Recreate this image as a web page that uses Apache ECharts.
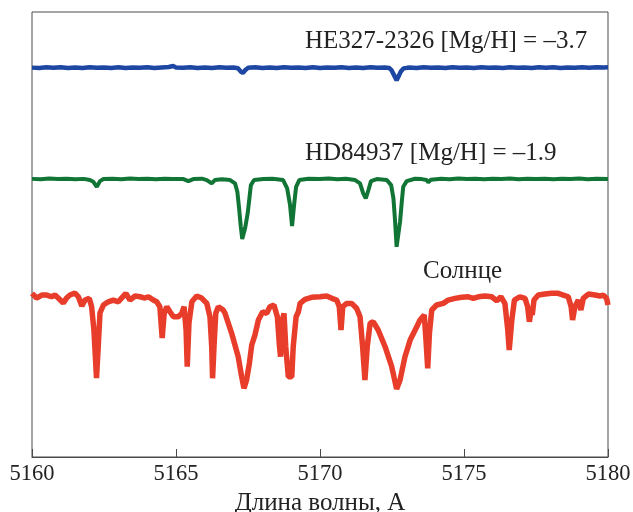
<!DOCTYPE html>
<html>
<head>
<meta charset="utf-8">
<script src="https://cdn.jsdelivr.net/npm/echarts@6/dist/echarts.min.js"></script>
<style>
  html, body { margin: 0; padding: 0; background: #fff; }
  #chart { width: 633px; height: 512px; }
</style>
</head>
<body>
<div id="chart"></div>
<script>
// Wavelength axis (Angstrom)
const waveMin = 5160;
const waveMax = 5180;
const waveStep = 5;

// Normalized spectra: [wavelength, relative flux]
const sunSpectrum = [
  [5160.00,1.030],[5160.16,0.986],[5160.34,1.014],[5160.51,1.014],[5160.68,0.998],
  [5160.80,1.014],[5160.91,0.986],[5161.09,0.939],[5161.20,0.986],[5161.32,1.014],
  [5161.49,1.033],[5161.61,0.998],[5161.73,0.911],[5161.84,0.967],[5161.99,0.983],
  [5162.07,0.905],[5162.15,0.687],[5162.24,0.238],[5162.30,0.531],[5162.36,0.846],
  [5162.48,0.921],[5162.65,0.951],[5162.82,0.967],[5163.00,0.951],[5163.11,0.986],
  [5163.26,1.030],[5163.40,0.967],[5163.58,1.005],[5163.75,0.998],[5163.92,0.986],
  [5164.04,0.998],[5164.21,0.967],[5164.33,0.951],[5164.44,0.905],[5164.52,0.612],
  [5164.59,0.843],[5164.68,0.905],[5164.79,0.858],[5164.91,0.811],[5165.08,0.811],
  [5165.20,0.843],[5165.28,0.905],[5165.35,0.687],[5165.39,0.344],[5165.45,0.752],
  [5165.55,0.951],[5165.72,1.005],[5165.89,0.986],[5166.07,0.936],[5166.18,0.811],
  [5166.24,0.531],[5166.27,0.236],[5166.32,0.531],[5166.38,0.843],[5166.47,0.905],
  [5166.64,0.874],[5166.70,0.846],[5166.93,0.659],[5167.16,0.437],[5167.28,0.250],
  [5167.36,0.142],[5167.45,0.220],[5167.55,0.379],[5167.63,0.547],[5167.74,0.640],
  [5167.86,0.780],[5168.01,0.858],[5168.15,0.843],[5168.26,0.905],[5168.40,0.921],
  [5168.52,0.811],[5168.59,0.547],[5168.63,0.437],[5168.67,0.752],[5168.75,0.843],
  [5168.81,0.531],[5168.90,0.250],[5169.02,0.250],[5169.07,0.531],[5169.17,0.811],
  [5169.25,0.858],[5169.31,0.936],[5169.48,0.974],[5169.71,0.993],[5170.00,0.998],
  [5170.23,1.005],[5170.41,0.983],[5170.58,0.967],[5170.67,0.905],[5170.73,0.687],
  [5170.79,0.905],[5170.93,0.936],[5171.10,0.936],[5171.27,0.890],[5171.39,0.811],
  [5171.48,0.531],[5171.56,0.220],[5171.64,0.531],[5171.74,0.750],[5171.85,0.764],
  [5172.02,0.687],[5172.26,0.531],[5172.49,0.344],[5172.66,0.136],[5172.78,0.220],
  [5172.95,0.437],[5173.13,0.593],[5173.36,0.718],[5173.47,0.780],[5173.62,0.827],
  [5173.68,0.593],[5173.74,0.329],[5173.80,0.656],[5173.88,0.874],[5174.05,0.921],
  [5174.28,0.936],[5174.45,0.967],[5174.69,0.983],[5174.92,0.993],[5175.15,0.998],
  [5175.32,0.983],[5175.50,0.998],[5175.73,1.005],[5175.96,0.998],[5176.14,0.961],
  [5176.28,0.998],[5176.42,0.936],[5176.52,0.687],[5176.57,0.500],[5176.66,0.780],
  [5176.75,0.967],[5176.94,0.998],[5177.12,0.983],[5177.21,0.905],[5177.27,0.764],
  [5177.33,0.874],[5177.37,0.827],[5177.43,0.967],[5177.58,1.014],[5177.81,1.023],
  [5178.04,1.030],[5178.27,1.030],[5178.45,1.014],[5178.62,0.998],[5178.72,0.905],
  [5178.77,0.780],[5178.85,0.905],[5178.97,0.967],[5179.06,0.874],[5179.14,0.983],
  [5179.32,1.023],[5179.55,1.014],[5179.72,1.005],[5179.84,1.014],[5179.95,0.983],
  [5180.00,0.921]
];

const hd84937Spectrum = [
  [5160.00,1.000],[5160.30,0.996],[5160.60,1.003],[5160.90,0.998],[5161.20,1.002],
  [5161.50,0.997],[5161.80,1.000],[5162.01,0.989],[5162.13,0.973],[5162.25,0.926],
  [5162.36,0.979],[5162.48,0.998],[5162.80,1.002],[5163.10,0.997],[5163.40,1.003],
  [5163.70,0.999],[5164.00,1.002],[5164.30,0.997],[5164.60,1.001],[5164.90,0.998],
  [5165.26,0.998],[5165.43,0.979],[5165.60,0.998],[5165.90,1.002],[5166.07,0.989],
  [5166.24,0.958],[5166.35,0.989],[5166.60,0.996],[5166.88,0.989],[5167.05,0.958],
  [5167.13,0.879],[5167.19,0.727],[5167.25,0.552],[5167.30,0.437],[5167.40,0.540],
  [5167.49,0.680],[5167.55,0.821],[5167.60,0.942],[5167.71,0.989],[5168.03,0.998],
  [5168.35,1.002],[5168.72,0.989],[5168.86,0.911],[5168.96,0.755],[5169.03,0.559],
  [5169.10,0.755],[5169.17,0.926],[5169.28,0.989],[5169.60,1.002],[5170.00,0.998],
  [5170.30,1.003],[5170.60,0.997],[5170.90,1.001],[5171.22,0.989],[5171.39,0.958],
  [5171.50,0.864],[5171.59,0.818],[5171.68,0.895],[5171.77,0.979],[5171.97,0.998],
  [5172.32,0.989],[5172.47,0.942],[5172.55,0.818],[5172.60,0.631],[5172.66,0.365],
  [5172.78,0.599],[5172.84,0.786],[5172.89,0.926],[5173.01,0.979],[5173.30,1.001],
  [5173.53,0.998],[5173.70,0.989],[5173.76,0.967],[5173.85,0.992],[5174.20,1.002],
  [5174.50,0.997],[5174.80,1.003],[5175.10,0.998],[5175.40,1.002],[5175.70,0.996],
  [5176.00,1.001],[5176.30,0.998],[5176.60,1.003],[5176.90,0.997],[5177.20,1.001],
  [5177.50,0.998],[5177.80,1.002],[5178.10,0.996],[5178.40,1.001],[5178.70,0.998],
  [5179.00,1.003],[5179.30,0.997],[5179.60,1.001],[5180.00,0.999]
];

const he0327Spectrum = [
  [5160.00,1.000],[5160.25,0.996],[5160.50,1.003],[5160.75,0.998],[5161.00,1.004],
  [5161.25,0.997],[5161.50,1.002],[5161.75,0.996],[5162.00,1.003],[5162.25,0.998],
  [5162.50,1.002],[5162.75,0.997],[5163.00,1.003],[5163.25,0.996],[5163.50,1.001],
  [5163.75,0.998],[5164.00,1.003],[5164.25,0.997],[5164.50,1.002],[5164.75,1.006],
  [5164.90,1.015],[5165.00,1.002],[5165.25,0.998],[5165.50,1.003],[5165.75,0.997],
  [5166.00,1.002],[5166.25,0.996],[5166.50,1.003],[5166.75,0.998],[5167.00,1.002],
  [5167.15,0.995],[5167.25,0.962],[5167.32,0.950],[5167.40,0.975],[5167.50,0.998],
  [5167.75,1.003],[5168.00,0.997],[5168.25,1.002],[5168.50,0.996],[5168.75,1.003],
  [5169.00,0.998],[5169.25,1.002],[5169.50,0.997],[5169.75,1.003],[5170.00,0.996],
  [5170.25,1.002],[5170.50,0.998],[5170.75,1.003],[5171.00,0.997],[5171.25,1.002],
  [5171.50,0.996],[5171.75,1.003],[5172.00,0.998],[5172.25,1.002],[5172.40,0.997],
  [5172.48,0.977],[5172.57,0.930],[5172.66,0.883],[5172.74,0.925],[5172.80,0.961],
  [5172.90,0.993],[5173.10,1.002],[5173.35,0.997],[5173.60,1.003],[5173.85,0.998],
  [5174.10,1.002],[5174.35,0.996],[5174.60,1.003],[5174.85,0.998],[5175.10,1.002],
  [5175.35,0.997],[5175.60,1.004],[5175.85,0.998],[5176.10,1.002],[5176.35,0.996],
  [5176.60,1.003],[5176.85,0.998],[5177.10,1.002],[5177.35,0.997],[5177.60,1.004],
  [5177.85,0.998],[5178.10,1.003],[5178.35,0.997],[5178.60,1.002],[5178.85,0.998],
  [5179.10,1.004],[5179.35,0.999],[5179.60,1.003],[5179.85,1.001],[5180.00,1.003]
];

// Vertical shifts separating the three spectra
const sunShift = 0.5;
const hdShift = 1.6;
const heShift = 2.64;

const labelHE = 'HE327-2326 [Mg/H] = \u20133.7';
const labelHD = 'HD84937 [Mg/H] = \u20131.9';
const labelSun = '\u0421\u043e\u043b\u043d\u0446\u0435';
const xName = '\u0414\u043b\u0438\u043d\u0430 \u0432\u043e\u043b\u043d\u044b, \u0410';

const shifted = (arr, s) => arr.map(p => [p[0], p[1] + s]);

const serif = '"Liberation Serif", "DejaVu Serif", serif';
const chart = echarts.init(document.getElementById('chart'));

chart.setOption({
  animation: false,
  grid: {
    left: 32, right: 25, top: 12, bottom: 55,
    outerBoundsMode: 'none',
    show: true, borderColor: '#4a4a4a', borderWidth: 1
  },
  xAxis: {
    type: 'value',
    min: waveMin, max: waveMax, interval: waveStep,
    name: xName,
    nameLocation: 'middle',
    nameGap: 30,
    nameTextStyle: { fontFamily: serif, fontSize: 25, color: '#222' },
    axisLine: { lineStyle: { color: '#4a4a4a', width: 1 } },
    axisTick: { inside: true, length: 8, lineStyle: { color: '#4a4a4a' } },
    axisLabel: {
      fontFamily: serif, fontSize: 22.5, color: '#222', margin: 6,
      formatter: v => String(v)
    },
    splitLine: { show: false }
  },
  yAxis: {
    type: 'value', min: 0, max: 4.16,
    axisLine: { show: false }, axisTick: { show: false },
    axisLabel: { show: false }, splitLine: { show: false }
  },
  graphic: [
    { type: 'text', left: 305, top: 29, style: { text: labelHE, font: '25px ' + serif, fill: '#222' } },
    { type: 'text', left: 305, top: 141, style: { text: labelHD, font: '25px ' + serif, fill: '#222' } },
    { type: 'text', left: 423, top: 259, style: { text: labelSun, font: '25px ' + serif, fill: '#222' } }
  ],
  series: [
    {
      type: 'line', data: shifted(he0327Spectrum, heShift),
      showSymbol: false, lineStyle: { color: '#1d47a3', width: 4.5 }
    },
    {
      type: 'line', data: shifted(hd84937Spectrum, hdShift),
      showSymbol: false, lineStyle: { color: '#117535', width: 4 }
    },
    {
      type: 'line', data: shifted(sunSpectrum, sunShift),
      showSymbol: false, lineStyle: { color: '#e83d2a', width: 5.5 }
    }
  ]
});
</script>
</body>
</html>
